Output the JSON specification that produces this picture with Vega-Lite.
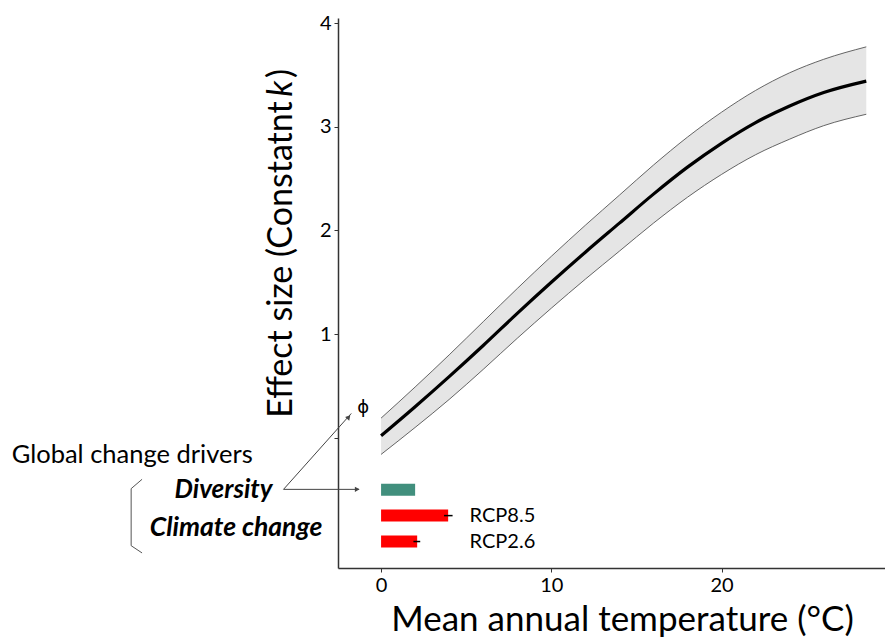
{
  "$schema": "https://vega.github.io/schema/vega-lite/v6.json",
  "width": 547,
  "height": 550,
  "autosize": {"type": "none"},
  "padding": {"left": 338, "top": 18, "right": 0, "bottom": 70},
  "background": "white",
  "config": {
    "view": {"stroke": null},
    "font": "Lato",
    "axis": {
      "grid": false,
      "domainColor": "#333333",
      "domainWidth": 1.5,
      "tickColor": "#333333",
      "tickSize": 4,
      "tickWidth": 1,
      "labelFont": "Lato",
      "labelFontSize": 20,
      "labelColor": "#000000",
      "labelPadding": 3
    }
  },
  "datasets": {
    "one": [{}],
    "curve": [
      {"T": 0, "m": 0.02, "lo": -0.16, "hi": 0.19},
      {"T": 2, "m": 0.30, "lo": 0.10, "hi": 0.49},
      {"T": 4, "m": 0.59, "lo": 0.37, "hi": 0.80},
      {"T": 6, "m": 0.89, "lo": 0.66, "hi": 1.12},
      {"T": 8, "m": 1.20, "lo": 0.96, "hi": 1.44},
      {"T": 10, "m": 1.50, "lo": 1.25, "hi": 1.75},
      {"T": 12, "m": 1.79, "lo": 1.53, "hi": 2.05},
      {"T": 14, "m": 2.07, "lo": 1.80, "hi": 2.34},
      {"T": 16, "m": 2.35, "lo": 2.07, "hi": 2.63},
      {"T": 18, "m": 2.61, "lo": 2.32, "hi": 2.90},
      {"T": 20, "m": 2.84, "lo": 2.54, "hi": 3.14},
      {"T": 22, "m": 3.04, "lo": 2.73, "hi": 3.35},
      {"T": 24, "m": 3.20, "lo": 2.88, "hi": 3.52},
      {"T": 26, "m": 3.33, "lo": 3.01, "hi": 3.65},
      {"T": 28.5, "m": 3.44, "lo": 3.12, "hi": 3.77}
    ],
    "bars": [
      {"name": "Diversity", "v": 2.0, "pos": -0.5, "c": "div", "elo": null, "ehi": null},
      {"name": "RCP8.5", "v": 3.94, "pos": -0.75, "c": "cc", "elo": 3.7, "ehi": 4.2},
      {"name": "RCP2.6", "v": 2.12, "pos": -1.0, "c": "cc", "elo": 1.9, "ehi": 2.3}
    ],
    "brace": [
      {"o": 1, "x": -14.04, "y": -0.40},
      {"o": 2, "x": -14.68, "y": -0.49},
      {"o": 3, "x": -14.68, "y": -1.04},
      {"o": 4, "x": -14.04, "y": -1.11}
    ],
    "arrows": [
      {"x": -5.73, "y": -0.497, "x2": -1.3, "y2": -0.497},
      {"x": -5.73, "y": -0.497, "x2": -1.75, "y2": 0.235}
    ],
    "heads": [
      {"x": -1.4, "y": -0.497, "a": 90},
      {"x": -1.9, "y": 0.200, "a": 41}
    ]
  },
  "layer": [
    {
      "data": {"name": "curve"},
      "mark": {"type": "area", "fill": "#e5e5e5", "interpolate": "monotone"},
      "encoding": {
        "x": {"field": "T", "type": "quantitative",
          "scale": {"domain": [-2.53, 29.6], "nice": false, "zero": false},
          "axis": {"values": [0, 10, 20], "format": "d", "title": "Mean annual temperature (°C)",
            "titleFont": "Lato", "titleFontSize": 35, "titleFontWeight": "normal", "titleColor": "#000000",
            "titleX": 284, "titleY": 62, "titleAlign": "center", "titleBaseline": "alphabetic"}},
        "y": {"field": "lo", "type": "quantitative",
          "scale": {"domain": [-1.207, 4.0], "nice": false, "zero": false},
          "axis": {"values": [0, 1, 2, 3, 4], "format": "d", "title": null,
            "labelExpr": "datum.value == 0 ? '' : datum.label"}},
        "y2": {"field": "hi"}
      }
    },
    {
      "data": {"name": "curve"},
      "mark": {"type": "line", "stroke": "#555555", "strokeWidth": 0.9, "interpolate": "monotone"},
      "encoding": {
        "x": {"field": "T", "type": "quantitative", "scale": {"domain": [-2.53, 29.6], "nice": false, "zero": false}},
        "y": {"field": "hi", "type": "quantitative", "scale": {"domain": [-1.207, 4.0], "nice": false, "zero": false}}
      }
    },
    {
      "data": {"name": "curve"},
      "mark": {"type": "line", "stroke": "#555555", "strokeWidth": 0.9, "interpolate": "monotone"},
      "encoding": {
        "x": {"field": "T", "type": "quantitative", "scale": {"domain": [-2.53, 29.6], "nice": false, "zero": false}},
        "y": {"field": "lo", "type": "quantitative", "scale": {"domain": [-1.207, 4.0], "nice": false, "zero": false}}
      }
    },
    {
      "data": {"name": "curve"},
      "mark": {"type": "line", "stroke": "#000000", "strokeWidth": 3.2, "interpolate": "monotone"},
      "encoding": {
        "x": {"field": "T", "type": "quantitative", "scale": {"domain": [-2.53, 29.6], "nice": false, "zero": false}},
        "y": {"field": "m", "type": "quantitative", "scale": {"domain": [-1.207, 4.0], "nice": false, "zero": false}}
      }
    },
    {
      "data": {"name": "bars"},
      "mark": {"type": "bar", "orient": "horizontal", "size": 12},
      "encoding": {
        "x": {"field": "v", "type": "quantitative", "scale": {"domain": [-2.53, 29.6], "nice": false, "zero": false}},
        "x2": {"datum": 0},
        "y": {"field": "pos", "type": "quantitative", "scale": {"domain": [-1.207, 4.0], "nice": false, "zero": false}},
        "color": {"field": "c", "type": "nominal", "scale": {"domain": ["div", "cc"], "range": ["#418f7d", "#ff0000"]}, "legend": null}
      }
    },
    {
      "data": {"name": "bars"},
      "transform": [{"filter": "datum.elo != null"}],
      "mark": {"type": "rule", "stroke": "#000000", "strokeWidth": 1.5},
      "encoding": {
        "x": {"field": "elo", "type": "quantitative", "scale": {"domain": [-2.53, 29.6], "nice": false, "zero": false}},
        "x2": {"field": "ehi"},
        "y": {"field": "pos", "type": "quantitative", "scale": {"domain": [-1.207, 4.0], "nice": false, "zero": false}}
      }
    },
    {
      "data": {"name": "bars"},
      "transform": [{"filter": "datum.name != 'Diversity'"}],
      "mark": {"type": "text", "align": "left", "baseline": "middle", "fontSize": 20, "font": "Lato", "color": "#000000"},
      "encoding": {
        "x": {"datum": 5.2, "type": "quantitative", "scale": {"domain": [-2.53, 29.6], "nice": false, "zero": false}},
        "y": {"field": "pos", "type": "quantitative", "scale": {"domain": [-1.207, 4.0], "nice": false, "zero": false}},
        "text": {"field": "name"}
      }
    },
    {
      "data": {"name": "brace"},
      "mark": {"type": "line", "stroke": "#555555", "strokeWidth": 1},
      "encoding": {
        "x": {"field": "x", "type": "quantitative", "scale": {"domain": [-2.53, 29.6], "nice": false, "zero": false}},
        "y": {"field": "y", "type": "quantitative", "scale": {"domain": [-1.207, 4.0], "nice": false, "zero": false}},
        "order": {"field": "o"}
      }
    },
    {
      "data": {"name": "arrows"},
      "mark": {"type": "rule", "stroke": "#444444", "strokeWidth": 1},
      "encoding": {
        "x": {"field": "x", "type": "quantitative", "scale": {"domain": [-2.53, 29.6], "nice": false, "zero": false}},
        "y": {"field": "y", "type": "quantitative", "scale": {"domain": [-1.207, 4.0], "nice": false, "zero": false}},
        "x2": {"field": "x2"},
        "y2": {"field": "y2"}
      }
    },
    {
      "data": {"name": "heads"},
      "mark": {"type": "point", "shape": "triangle-up", "filled": true, "color": "#444444", "size": 30, "opacity": 1},
      "encoding": {
        "x": {"field": "x", "type": "quantitative", "scale": {"domain": [-2.53, 29.6], "nice": false, "zero": false}},
        "y": {"field": "y", "type": "quantitative", "scale": {"domain": [-1.207, 4.0], "nice": false, "zero": false}},
        "angle": {"field": "a", "type": "quantitative", "scale": null}
      }
    },
    {
      "data": {"name": "one"},
      "mark": {"type": "text", "align": "left", "baseline": "middle", "fontSize": 25.5, "font": "Lato", "color": "#000000", "text": "Global change drivers"},
      "encoding": {
        "x": {"datum": -21.7, "type": "quantitative", "scale": {"domain": [-2.53, 29.6], "nice": false, "zero": false}},
        "y": {"datum": -0.166, "type": "quantitative", "scale": {"domain": [-1.207, 4.0], "nice": false, "zero": false}}
      }
    },
    {
      "data": {"name": "one"},
      "mark": {"type": "text", "align": "right", "baseline": "middle", "fontSize": 26, "font": "Lato", "fontWeight": "bold", "fontStyle": "italic", "color": "#000000", "text": "Diversity"},
      "encoding": {
        "x": {"datum": -6.37, "type": "quantitative", "scale": {"domain": [-2.53, 29.6], "nice": false, "zero": false}},
        "y": {"datum": -0.507, "type": "quantitative", "scale": {"domain": [-1.207, 4.0], "nice": false, "zero": false}}
      }
    },
    {
      "data": {"name": "one"},
      "mark": {"type": "text", "align": "right", "baseline": "middle", "fontSize": 26.5, "font": "Lato", "fontWeight": "bold", "fontStyle": "italic", "color": "#000000", "text": "Climate change"},
      "encoding": {
        "x": {"datum": -3.45, "type": "quantitative", "scale": {"domain": [-2.53, 29.6], "nice": false, "zero": false}},
        "y": {"datum": -0.867, "type": "quantitative", "scale": {"domain": [-1.207, 4.0], "nice": false, "zero": false}}
      }
    },
    {
      "data": {"name": "one"},
      "mark": {"type": "text", "align": "center", "baseline": "middle", "fontSize": 18, "font": "DejaVu Sans", "color": "#000000", "text": "ϕ"},
      "encoding": {
        "x": {"datum": -1.05, "type": "quantitative", "scale": {"domain": [-2.53, 29.6], "nice": false, "zero": false}},
        "y": {"datum": 0.289, "type": "quantitative", "scale": {"domain": [-1.207, 4.0], "nice": false, "zero": false}}
      }
    },
    {
      "data": {"name": "one"},
      "mark": {"type": "text", "angle": 270, "align": "right", "baseline": "alphabetic", "fontSize": 34, "font": "Lato", "color": "#000000", "text": "Effect size (Constatnt"},
      "encoding": {
        "x": {"datum": -5.25, "type": "quantitative", "scale": {"domain": [-2.53, 29.6], "nice": false, "zero": false}},
        "y": {"datum": 3.245, "type": "quantitative", "scale": {"domain": [-1.207, 4.0], "nice": false, "zero": false}}
      }
    },
    {
      "data": {"name": "one"},
      "mark": {"type": "text", "angle": 270, "align": "center", "baseline": "alphabetic", "fontSize": 34, "font": "Lato", "fontStyle": "italic", "color": "#000000", "text": "k"},
      "encoding": {
        "x": {"datum": -5.25, "type": "quantitative", "scale": {"domain": [-2.53, 29.6], "nice": false, "zero": false}},
        "y": {"datum": 3.366, "type": "quantitative", "scale": {"domain": [-1.207, 4.0], "nice": false, "zero": false}}
      }
    },
    {
      "data": {"name": "one"},
      "mark": {"type": "text", "angle": 270, "align": "left", "baseline": "alphabetic", "fontSize": 34, "font": "Lato", "color": "#000000", "text": ")"},
      "encoding": {
        "x": {"datum": -5.25, "type": "quantitative", "scale": {"domain": [-2.53, 29.6], "nice": false, "zero": false}},
        "y": {"datum": 3.47, "type": "quantitative", "scale": {"domain": [-1.207, 4.0], "nice": false, "zero": false}}
      }
    }
  ]
}
